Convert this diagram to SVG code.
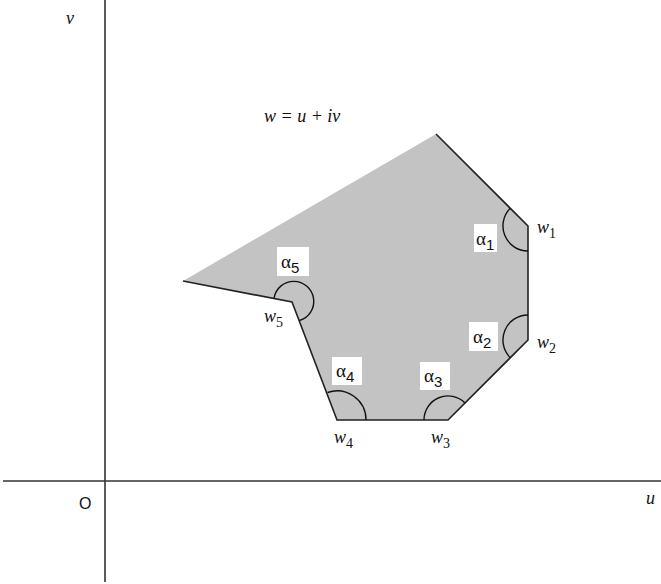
<svg xmlns="http://www.w3.org/2000/svg" width="661" height="584" viewBox="0 0 661 584">
<style>
.ax{stroke:#333;stroke-width:1.6;fill:none}
.edge{stroke:#222;stroke-width:1.6;fill:none}
.arc{stroke:#111;stroke-width:1.4;fill:none}
.lbl{font-family:"Liberation Serif",serif;font-style:italic;font-size:18px;fill:#111}
.sub{font-family:"Liberation Serif",serif;font-size:14px;font-style:normal}
.abox{fill:#fff}
.al{font-family:"Liberation Serif",serif;font-size:19px;fill:#111}
.as{font-family:"Liberation Sans",sans-serif;font-size:15px}
</style>
<rect width="661" height="584" fill="#fff"/>
<g id="axes">
<line class="ax" x1="105" y1="0" x2="105" y2="582"/>
<line class="ax" x1="3" y1="481" x2="661" y2="481"/>
<text class="lbl" x="66" y="24">v</text>
<text x="79" y="509" font-family="Liberation Sans,sans-serif" font-size="16" fill="#111">O</text>
<text class="lbl" x="646" y="504">u</text>
</g>
<g id="region">
<polygon points="436,134 528,226 528,340 448,420 337,420 292,302 183,281" fill="#c3c3c3" stroke="none"/>
<polyline class="edge" points="183,281 292,302 337,420 448,420 528,340 528,226 436,134"/>
<text class="lbl" x="264" y="122">w = u + iv</text>
</g>
<g id="connectors">
<path class="arc" d="M510.3,208.3 A25,25 0 0 0 528,251"/>
<path class="arc" d="M528,315 A25,25 0 0 0 510.3,357.7"/>
<path class="arc" d="M424,420 A24,24 0 0 1 465,403"/>
<path class="arc" d="M327.5,392.5 A29,29 0 0 1 366,420"/>
<path class="arc" d="M274,298.3 A20,20 0 1 1 299.5,320.5"/>
</g>
<g id="w1"><rect class="abox" x="474" y="224" width="23" height="28"/><text class="al" x="476" y="245">α<tspan class="as" dy="5">1</tspan></text><text class="lbl" x="537" y="233">w<tspan class="sub" dy="5">1</tspan></text></g>
<g id="w2"><rect class="abox" x="469" y="322" width="29" height="29"/><text class="al" x="473" y="343">α<tspan class="as" dy="5">2</tspan></text><text class="lbl" x="537" y="348">w<tspan class="sub" dy="5">2</tspan></text></g>
<g id="w3"><rect class="abox" x="420" y="362" width="30" height="28"/><text class="al" x="424" y="382">α<tspan class="as" dy="5">3</tspan></text><text class="lbl" x="431" y="443">w<tspan class="sub" dy="5">3</tspan></text></g>
<g id="w4"><rect class="abox" x="332" y="357" width="30" height="28"/><text class="al" x="336" y="377">α<tspan class="as" dy="5">4</tspan></text><text class="lbl" x="334" y="443">w<tspan class="sub" dy="5">4</tspan></text></g>
<g id="w5"><rect class="abox" x="277" y="247" width="32" height="29"/><text class="al" x="281" y="268">α<tspan class="as" dy="5">5</tspan></text><text class="lbl" x="264" y="322">w<tspan class="sub" dy="5">5</tspan></text></g>
</svg>
